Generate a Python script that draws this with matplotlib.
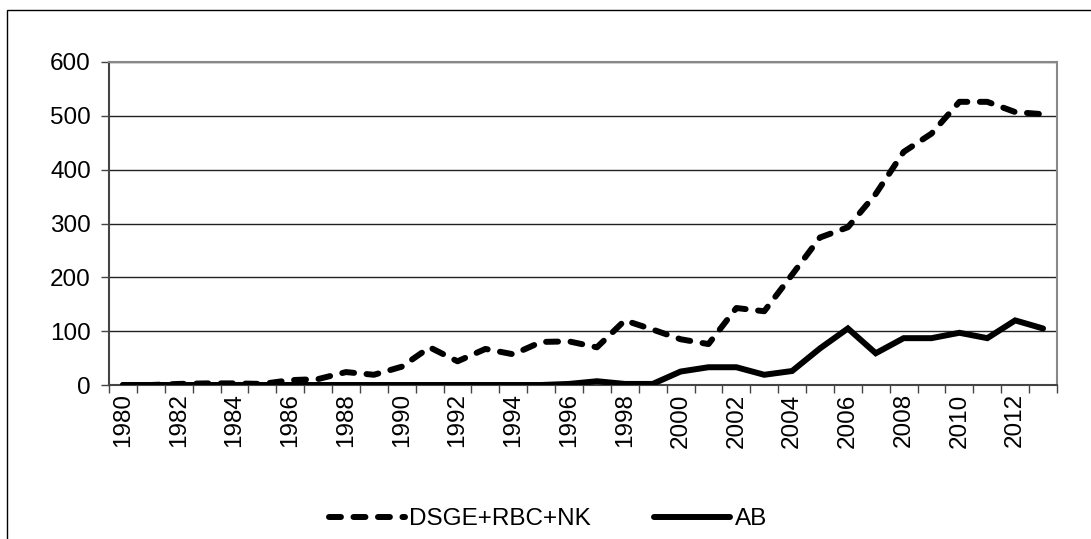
import matplotlib
matplotlib.use("Agg")
import matplotlib.pyplot as plt
from matplotlib.patches import Rectangle

plt.rcParams['font.family'] = ['Liberation Sans', 'DejaVu Sans']

years = list(range(1980, 2014))
dsge = [0, 0, 2, 3, 3, 2, 9, 11, 24, 19, 34, 70, 44, 67, 57, 80, 81, 70,
        120, 103, 85, 76, 143, 137, 205, 274, 293, 355, 433, 467, 526, 526,
        507, 503]
ab = [0, 0, 0, 0, 0, 0, 0, 0, 0, 0, 0, 0, 0, 0, 0, 0, 2, 7,
      2, 2, 25, 33, 33, 19, 26, 68, 105, 59, 87, 87, 97, 87,
      120, 105]
year_labels = [str(y) if y % 2 == 0 else "" for y in years]

fig = plt.figure(figsize=(10.91, 5.39), dpi=100)
ax = fig.add_axes([109 / 1091, 154 / 539, 948 / 1091, 323 / 539])

# outer chart border (Excel style)
fig.patches.append(Rectangle((7 / 1091, -0.1), 1.2, (539 - 10) / 539 + 0.1,
                             transform=fig.transFigure, fill=False,
                             edgecolor='black', linewidth=1.0))

x = list(range(len(years)))
ax.plot(x, dsge, color='black', linewidth=4.3, linestyle=(0, (2.0, 2.1)),
        dash_capstyle='round', solid_joinstyle='round', label='DSGE+RBC+NK',
        zorder=3)
ax.plot(x, ab, color='black', linewidth=4.3, solid_capstyle='round',
        solid_joinstyle='miter', label='AB', zorder=3)

ax.set_xlim(-0.5, len(years) - 0.5)
ax.set_ylim(0, 600)
ax.set_yticks(range(0, 601, 100))
ax.yaxis.grid(True, color='#222222', linewidth=1.0)
ax.set_axisbelow(True)

fs = 17.5
ax.set_xticks(x)
ax.set_xticklabels(year_labels, rotation=90, fontsize=fs)
ax.set_xticks([i - 0.5 for i in range(len(years) + 1)], minor=True)
ax.tick_params(axis='x', which='major', length=0, pad=6)
ax.tick_params(axis='x', which='minor', length=6, width=1.0, color='#444444')
ax.tick_params(axis='y', length=6, width=1.0, color='#444444', labelsize=fs,
               pad=7)

for side in ['left', 'bottom']:
    ax.spines[side].set_color('#444444')
    ax.spines[side].set_linewidth(1.5)
for side in ['top', 'right']:
    ax.spines[side].set_color('#888888')
    ax.spines[side].set_linewidth(1.5)

leg = fig.legend(loc='center', bbox_to_anchor=(548 / 1091, 1 - 519 / 539),
                 ncol=2, frameon=False, fontsize=fs, handlelength=3.1,
                 handletextpad=0.2, columnspacing=2.6)

fig.savefig("out.png", dpi=100)
